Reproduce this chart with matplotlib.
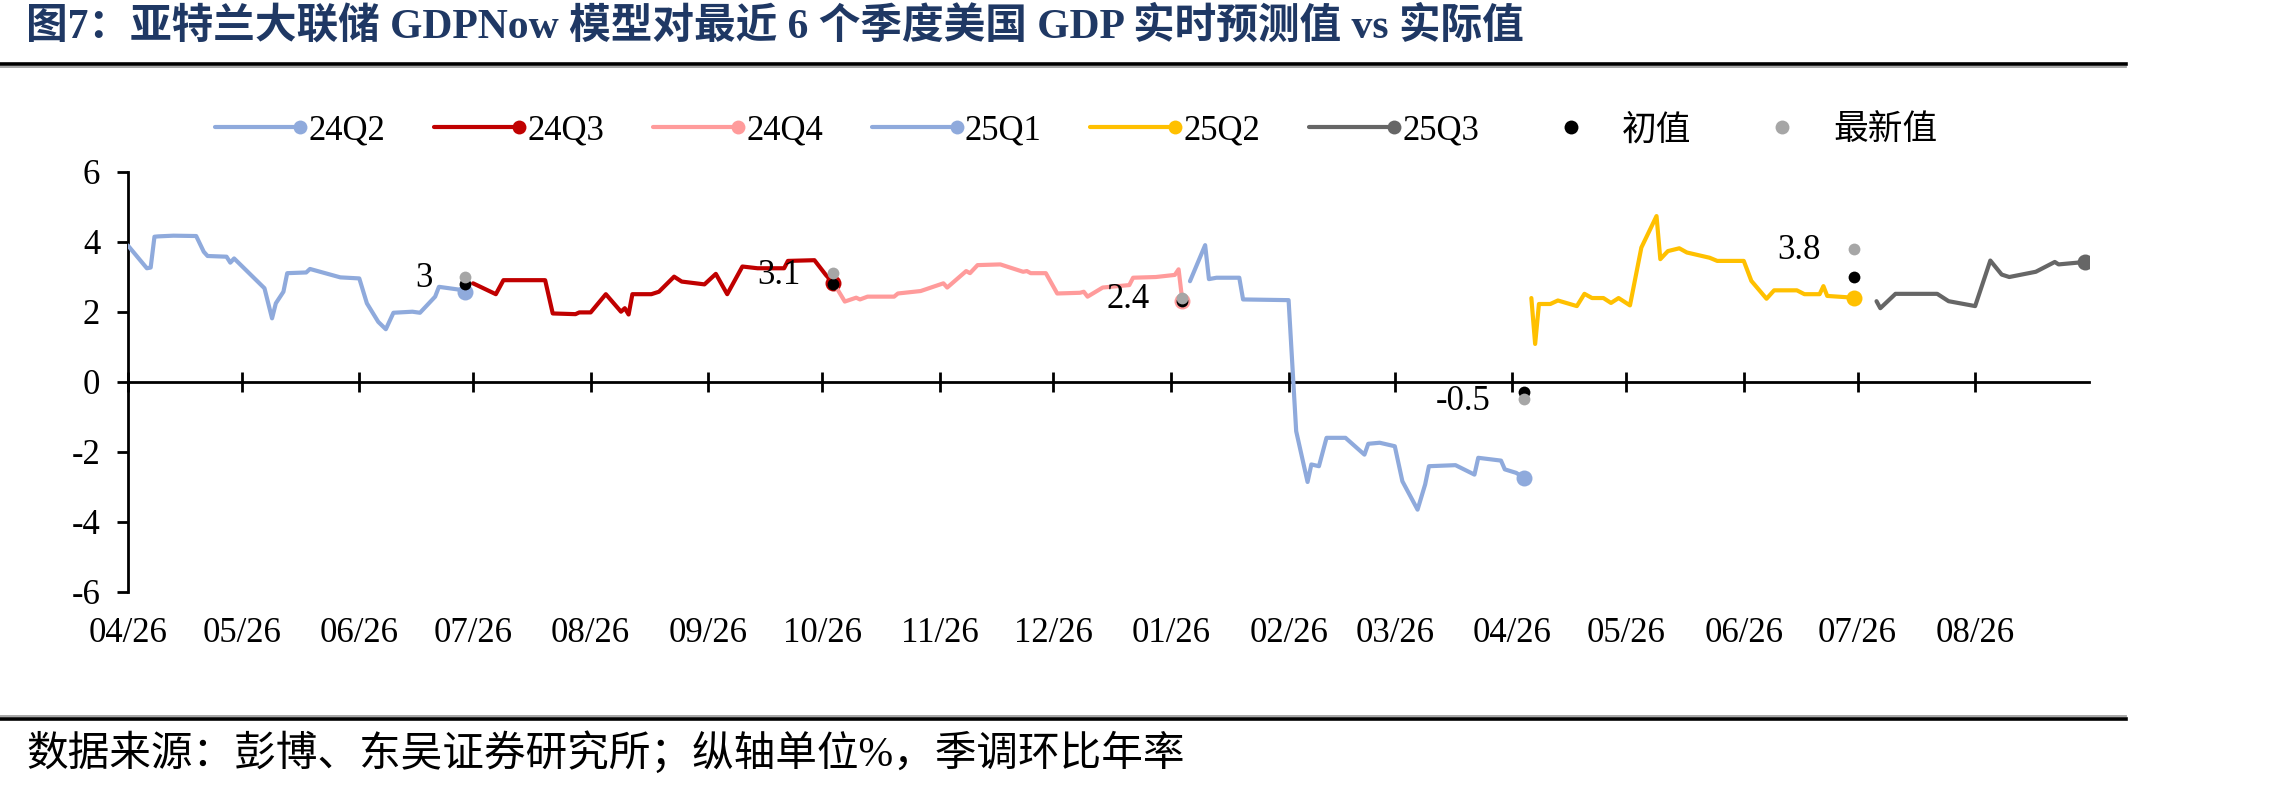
import numpy as np
import matplotlib
matplotlib.use('Agg')
import matplotlib.pyplot as plt
import matplotlib.dates as mdates
from matplotlib.legend_handler import HandlerBase
from matplotlib.lines import Line2D
import pandas as pd

plt.rcParams['axes.unicode_minus'] = False
FAM = ['Liberation Serif', 'Noto Sans CJK SC']
plt.rcParams['font.family'] = FAM

# ---------------- data ----------------
START = '2024-04-26'   # day 0 of all day offsets below
x_end_day = 517

# GDPNow nowcast paths (days since START, % SAAR)
q224_day = [0, 5, 6, 7, 8, 12, 18, 20, 21, 26, 27, 28, 36, 38, 39, 41, 42, 47, 48, 56, 61, 63, 66, 68, 70, 75, 77, 81, 82, 88, 89]
q224_val = [3.89, 3.24, 3.26, 4.14, 4.15, 4.17, 4.16, 3.71, 3.59, 3.57, 3.40, 3.52, 2.67, 1.81, 2.24, 2.57, 3.10, 3.12, 3.22, 2.98, 2.95, 2.24, 1.71, 1.50, 1.97, 2.00, 1.97, 2.43, 2.71, 2.62, 2.55]

q324_day = [91, 97, 99, 110, 112, 118, 119, 122, 126, 130, 131, 132, 133, 138, 140, 144, 146, 152, 155, 158, 162, 166, 173, 174, 181, 184, 186]
q324_val = [2.81, 2.50, 2.90, 2.90, 1.95, 1.93, 1.98, 1.98, 2.50, 2.00, 2.10, 1.92, 2.50, 2.50, 2.57, 3.00, 2.86, 2.78, 3.08, 2.50, 3.29, 3.24, 3.24, 3.45, 3.47, 3.05, 2.81]

q424_day = [187, 189, 192, 193, 195, 202, 203, 209, 215, 216, 221, 222, 224, 230, 236, 237, 238, 242, 245, 251, 252, 253, 257, 264, 265, 271, 276, 277, 278]
q424_val = [2.65, 2.29, 2.40, 2.35, 2.43, 2.43, 2.52, 2.59, 2.81, 2.69, 3.16, 3.10, 3.33, 3.35, 3.14, 3.16, 3.10, 3.10, 2.52, 2.54, 2.57, 2.43, 2.69, 2.76, 2.97, 2.99, 3.05, 3.21, 2.30]

q125_day = [280, 284, 285, 287, 293, 294, 306, 308, 311, 312, 314, 316, 321, 326, 327, 330, 334, 336, 340, 342, 343, 350, 355, 356, 362, 363, 366, 368]
q125_val = [2.87, 3.90, 2.93, 2.97, 2.97, 2.35, 2.33, -1.41, -2.86, -2.36, -2.41, -1.60, -1.60, -2.08, -1.77, -1.74, -1.84, -2.84, -3.65, -2.93, -2.41, -2.38, -2.65, -2.17, -2.25, -2.50, -2.60, -2.74]

q225_day = [370, 371, 372, 375, 377, 382, 384, 386, 389, 391, 393, 396, 399, 403, 404, 406, 409, 411, 417, 419, 426, 428, 432, 434, 440, 442, 446, 447, 448, 455]
q225_val = [2.39, 1.08, 2.22, 2.22, 2.32, 2.16, 2.51, 2.39, 2.39, 2.25, 2.39, 2.18, 3.83, 4.73, 3.50, 3.73, 3.81, 3.69, 3.54, 3.45, 3.45, 2.88, 2.37, 2.61, 2.61, 2.50, 2.50, 2.73, 2.45, 2.40]

q325_day = [461, 462, 466, 477, 480, 487, 491, 494, 496, 503, 508, 509, 516]
q325_val = [2.30, 2.10, 2.51, 2.51, 2.30, 2.16, 3.46, 3.06, 2.99, 3.14, 3.42, 3.35, 3.42]

series_names = ['24Q2', '24Q3', '24Q4', '25Q1', '25Q2', '25Q3']
series_colors = ['#8FAADC', '#C00000', '#FF9B9B', '#8FAADC', '#FFC000', '#666666']
series_days = [q224_day, q324_day, q424_day, q125_day, q225_day, q325_day]
series_vals = [q224_val, q324_val, q424_val, q125_val, q225_val, q325_val]

# official GDP prints (advance = 初值, latest = 最新值)
release_day = [89, 186, 278, 368, 455]
initial_val = [2.8, 2.8, 2.3, -0.3, 3.0]
latest_val = [3.0, 3.1, 2.4, -0.5, 3.8]
latest_text = ['3', '3.1', '2.4', '-0.5', '3.8']

tick_labels_months = pd.date_range('2024-04-01', '2025-08-01', freq='MS') + pd.Timedelta(days=25)

title = '图7：亚特兰大联储 GDPNow 模型对最近 6 个季度美国 GDP 实时预测值 vs 实际值'
source = '数据来源：彭博、东吴证券研究所；纵轴单位%，季调环比年率'

# ---------------- helpers ----------------
base = np.datetime64(START)
def to_x(days):
    return mdates.date2num(base + np.array(days, dtype='timedelta64[D]'))


class EndDotHandler(HandlerBase):
    def create_artists(self, legend, orig, xdescent, ydescent, width, height, fontsize, trans):
        y = (height - ydescent) / 2
        arts = []
        has_line = orig.get_linestyle() not in ('None', 'none', '', ' ')
        if has_line:
            arts.append(Line2D([-xdescent, -xdescent + width], [y, y], color=orig.get_color(),
                               lw=orig.get_linewidth(), solid_capstyle='round', transform=trans))
            mx = -xdescent + width
        else:
            mx = -xdescent + width / 2
        arts.append(Line2D([mx], [y], linestyle='none', marker='o', markersize=10,
                           markerfacecolor=orig.get_markerfacecolor(), markeredgecolor='none',
                           transform=trans))
        return arts

# ---------------- figure ----------------
fig = plt.figure(figsize=(22.8, 7.87), dpi=100)
ax = fig.add_axes([0.0561, 0.2478, 0.9162 - 0.0561, 0.782 - 0.2478])

LW = 3.0
handles = []
for name, col, d, v in zip(series_names, series_colors, series_days, series_vals):
    ln, = ax.plot(to_x(d), v, color=col, lw=LW, solid_joinstyle='round', solid_capstyle='round',
                  marker='o', markevery=[-1], markersize=11.5, markerfacecolor=col, markeredgecolor='none',
                  zorder=3, label=name)
    handles.append(ln)

h_init, = ax.plot(to_x(release_day), initial_val, linestyle='none', marker='o', markersize=8.5,
                  markerfacecolor='#000000', markeredgecolor='none', zorder=4, label='初值')
h_last, = ax.plot(to_x(release_day), latest_val, linestyle='none', marker='o', markersize=8.5,
                  markerfacecolor='#A6A6A6', markeredgecolor='none', zorder=5, label='最新值')
handles += [h_init, h_last]

for d, v, t in zip(release_day, latest_val, latest_text):
    ax.annotate(t, xy=(to_x([d])[0], v), xytext=(-33, -2), textcoords='offset pixels',
                ha='right', va='center', fontsize=25, family=FAM, color='black')

ax.set_xlim(to_x([0])[0], to_x([x_end_day])[0])
ax.set_ylim(-6, 6)
ax.set_yticks(np.arange(-6, 7, 2))

for s in ['top', 'right']:
    ax.spines[s].set_visible(False)
ax.spines['left'].set_linewidth(2.0)
ax.spines['bottom'].set_linewidth(2.0)
ax.spines['bottom'].set_position(('data', 0))

xt = mdates.date2num(tick_labels_months.to_numpy())
ax.set_xticks(xt)
ax.tick_params(axis='x', direction='inout', length=15, width=2.0, labelbottom=False)
ax.tick_params(axis='y', direction='out', length=8, width=2.0, labelsize=25, pad=12)

sec = ax.secondary_xaxis(0.0)
sec.set_xticks(xt)
sec.xaxis.set_major_formatter(mdates.DateFormatter('%m/%d'))
sec.spines['bottom'].set_visible(False)
sec.tick_params(axis='x', length=0, labelsize=25, pad=18)

leg = fig.legend(handles=handles, loc='center', bbox_to_anchor=(0.472, 0.8336), ncol=8,
                 frameon=False, handlelength=2.45, handletextpad=0.24,
                 columnspacing=1.4, handler_map={Line2D: EndDotHandler()},
                 prop={'family': FAM, 'size': 25})

# title, rules, source
fig.text(0.0114, 0.967, title, fontsize=30, fontweight='bold', color='#1F3864',
         ha='left', va='center', family=FAM)
fig.text(0.0114, 0.042, source, fontsize=30, color='black', ha='left', va='center', family=FAM)
fig.add_artist(Line2D([0, 0.9325], [0.9193, 0.9193], transform=fig.transFigure, color='black', lw=2.6))
fig.add_artist(Line2D([0, 0.9325], [0.9150, 0.9150], transform=fig.transFigure, color='#A0A0A0', lw=1.3))
fig.add_artist(Line2D([0, 0.9325], [0.0905, 0.0905], transform=fig.transFigure, color='#A0A0A0', lw=1.3))
fig.add_artist(Line2D([0, 0.9325], [0.0862, 0.0862], transform=fig.transFigure, color='black', lw=2.6))

fig.savefig('out.png', dpi=100)
